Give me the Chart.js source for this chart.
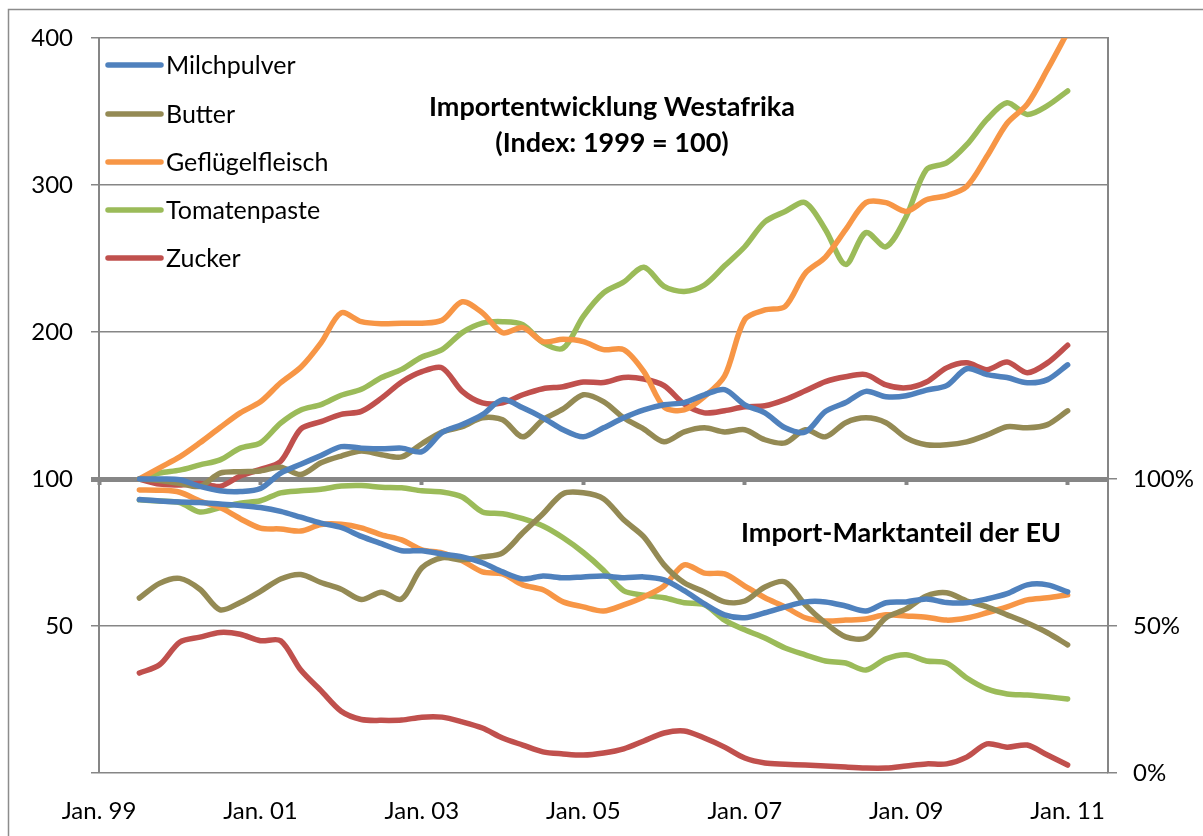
<!DOCTYPE html>
<html>
<head>
<meta charset="utf-8">
<script src="https://cdn.jsdelivr.net/npm/chart.js@4.4.1/dist/chart.umd.min.js"></script>
<style>
  html, body { margin: 0; padding: 0; background: #fff; }
  #chart { display: block; }
</style>
</head>
<body>
<canvas id="chart" width="1203" height="836"></canvas>
<script>
// months counted from Jan. 1999
const months = [6, 9, 12, 15, 18, 21, 24, 27, 30, 33, 36, 39, 42, 45, 48, 51, 54, 57, 60, 63, 66, 69, 72, 75,
  78, 81, 84, 87, 90, 93, 96, 99, 102, 105, 108, 111, 114, 117, 120, 123, 126, 129, 132, 135, 138, 141, 144];

// import index, 1999 = 100
const milchIdx = [100, 100, 99.5, 95, 92, 91.5, 93.5, 104, 110, 116, 122, 121, 120.5, 121, 118.6, 131.6, 137, 143.8,
  154, 148.4, 141.6, 133.5, 128.7, 134.8, 141.6, 147, 150.5, 152, 157.3, 160.8, 150.5, 145, 134.8, 132, 146, 152,
  159.6, 156, 156.6, 160.5, 163.5, 175, 171, 169, 165.5, 167.6, 177.7];
const butterIdx = [100, 99, 97, 95, 104, 105, 105.5, 108, 103, 111, 115.6, 119, 116.5, 115, 124, 132, 135.6, 141.6,
  140.3, 128.7, 140.3, 147.7, 157.3, 152.6, 141.6, 134, 125.3, 132, 134.8, 132, 133.5, 126.7, 124.6, 133.5, 128.7,
  138.3, 141.6, 138.3, 128, 123.3, 123.3, 125.3, 130, 135.6, 134.8, 137, 146.4];
const gefluegelIdx = [100, 107.6, 115, 124.6, 135, 145, 152.5, 165.5, 176, 192.6, 213, 207, 205.6, 206, 206, 208,
  220.6, 213, 199.5, 203, 193.5, 195, 193.5, 188, 188, 173, 149, 147, 156, 170, 208.5, 215, 217.4, 240, 251, 269.6,
  288, 288, 282, 290, 292.8, 299, 319.5, 342, 355, 378.6, 404];
const tomatenIdx = [100, 104, 106, 109.6, 113, 121, 124.6, 138, 147, 150.6, 157, 161, 169, 174.6, 183, 188, 199.6,
  206, 207, 205, 192.8, 189, 210.7, 226.6, 234, 244, 231, 227.6, 232, 245, 258, 275, 282, 288, 269.6, 246, 267.6,
  258, 278.6, 310.5, 315, 327.4, 344.6, 356, 348, 354, 364];
const zuckerIdx = [100, 96.5, 96, 97, 95, 102, 106.5, 112, 134, 139, 144, 146, 155, 166, 173, 175.6, 159.6, 151.8,
  151.8, 157.3, 161.4, 162.8, 166, 165.6, 169, 168, 163.5, 151, 145, 146.4, 149.1, 149.8, 154, 160, 166.3, 169.6,
  171, 164, 162, 166, 175.6, 179, 174.4, 179.6, 172.3, 179, 191];

// EU import market share, %
const milchShare = [93, 92.5, 92.2, 92, 91.5, 91, 90.3, 89, 87, 85, 83.5, 80.5, 78, 75.6, 75.6, 74.5, 73.5, 71.5,
  68.4, 66, 67, 66.4, 66.7, 67, 66.4, 66.7, 65.7, 62, 57.5, 53.8, 52.8, 54.5, 56.5, 58.2, 58.2, 56.8, 55.1, 57.9,
  58.2, 59.2, 58, 57.9, 59.2, 61, 64, 64, 61.6];
const butterShare = [59.5, 64.5, 66.2, 62.5, 55.5, 58, 61.8, 66, 67.5, 64.8, 62.5, 59, 61.5, 59.2, 69.8, 73.2, 72.5,
  73.5, 74.9, 81.7, 88.2, 95, 95.3, 93.3, 86.1, 80.3, 70.8, 64.7, 61.6, 58.2, 58.5, 63.3, 65, 57.2, 51, 46.3, 45.9,
  52.8, 55.8, 60.2, 61.3, 58.5, 56.5, 53.8, 51, 47.7, 43.6];
const gefluegelShare = [96.3, 96.2, 95.5, 92.5, 90.3, 86.5, 83.3, 83, 82.3, 84.5, 84.6, 83.4, 81, 79.3, 75.9, 74.9,
  72.2, 68.4, 67.7, 64, 62.3, 58.2, 56.5, 55.1, 57.2, 59.9, 63.6, 70.8, 68, 67.7, 63.6, 59.6, 56.5, 52.8, 51.7, 52,
  52.4, 53.8, 53.4, 53, 52, 52.7, 54.5, 56.5, 58.9, 59.6, 60.6];
const tomatenShare = [92.9, 92.5, 92, 88.8, 90.3, 91.8, 92.6, 95.3, 96, 96.5, 97.6, 97.8, 97.2, 97, 96, 95.6, 93.9,
  88.8, 88.2, 86.5, 84, 80, 75, 69, 62, 60.5, 59.6, 57.9, 57.2, 52, 48.7, 45.9, 42.5, 40.2, 38.1, 37.4, 35, 38.8,
  40.2, 38.1, 37.4, 32.3, 28.6, 26.9, 26.5, 25.9, 25.2];
const zuckerShare = [34, 36.8, 44.5, 46.2, 47.8, 47.2, 45, 45, 35, 28, 21, 18.2, 17.9, 18, 19, 19, 17.4, 15.3, 11.9,
  9.5, 7.2, 6.5, 6.1, 6.8, 8.2, 10.9, 13.6, 14.3, 11.9, 8.8, 5.1, 3.4, 3, 2.7, 2.4, 2, 1.7, 1.7, 2.4, 3.1, 3.1, 5.4,
  9.9, 8.8, 9.5, 6.1, 2.7];

const names = ['Milchpulver', 'Butter', 'Geflügelfleisch', 'Tomatenpaste', 'Zucker'];
const colors = ['#4F81BD', '#948A54', '#F79646', '#9BBB59', '#C0504D'];

const xTicks = [0, 24, 48, 72, 96, 120, 144];
const xLabels = ['Jan. 99', 'Jan. 01', 'Jan. 03', 'Jan. 05', 'Jan. 07', 'Jan. 09', 'Jan. 11'];
const leftTicks = [-100, 0, 100, 200, 300, 400];
const leftLabels = ['', '50', '100', '200', '300', '400'];
const rightTicks = [0, 50, 100];
const rightLabels = ['0%', '50%', '100%'];

const GRID = '#868686';
Chart.defaults.font.family = 'Lato, "Open Sans", sans-serif';
Chart.defaults.color = '#000';

function pts(arr) {
  return months.map((m, i) => ({ x: m, y: arr[i] }));
}

const idxSeries = [milchIdx, butterIdx, gefluegelIdx, tomatenIdx, zuckerIdx];
const shareSeries = [milchShare, butterShare, gefluegelShare, tomatenShare, zuckerShare];

const datasets = [];
idxSeries.forEach((s, i) => datasets.push({
  label: names[i], data: pts(s), yAxisID: 'y', borderColor: colors[i], clip: 0
}));
shareSeries.forEach((s, i) => datasets.push({
  label: names[i] + ' (EU-Anteil)', data: pts(s), yAxisID: 'y1', borderColor: colors[i]
}));

const decor = {
  id: 'decor',
  beforeDraw(chart) {
    const c = chart.ctx;
    c.save();
    c.fillStyle = '#fff';
    c.fillRect(0, 0, chart.width, chart.height);
    c.restore();
  },
  afterDraw(chart) {
    const c = chart.ctx;
    c.save();
    // outer frame
    c.strokeStyle = '#8c8c8c';
    c.lineWidth = 1.5;
    c.strokeRect(8.5, 9.5, 1400, 1000);

    // legend
    const legY = [65, 114, 162, 210, 258];
    c.lineCap = 'round';
    c.font = '25px Lato, sans-serif';
    c.textBaseline = 'middle';
    c.textAlign = 'left';
    names.forEach((n, i) => {
      c.strokeStyle = colors[i];
      c.lineWidth = 5.5;
      c.beginPath();
      c.moveTo(108, legY[i]);
      c.lineTo(161, legY[i]);
      c.stroke();
      c.fillStyle = '#000';
      c.fillText(n, 166, legY[i] + 1);
    });

    // inner titles
    c.font = 'bold 27px Lato, sans-serif';
    c.textAlign = 'center';
    c.fillText('Importentwicklung Westafrika', 612, 107);
    c.fillText('(Index: 1999 = 100)', 612, 143);
    c.fillText('Import-Marktanteil der EU', 901, 533);
    c.restore();
  }
};

new Chart(document.getElementById('chart'), {
  type: 'line',
  data: { datasets },
  options: {
    responsive: false,
    animation: false,
    devicePixelRatio: 1,
    layout: { padding: { top: 38, left: 0, right: 0, bottom: 0 } },
    elements: {
      point: { radius: 0 },
      line: { borderWidth: 5.5, tension: 0.3, borderCapStyle: 'round', borderJoinStyle: 'round', fill: false }
    },
    plugins: { legend: { display: false }, tooltip: { enabled: false } },
    scales: {
      x: {
        type: 'linear', min: 0, max: 150, position: 'bottom',
        afterBuildTicks: s => { s.ticks = xTicks.map(v => ({ value: v })); },
        afterFit: s => { s.height = 63; },
        grid: { display: false },
        border: { display: false },
        ticks: {
          padding: 16, maxRotation: 0, autoSkip: false, font: { size: 24 },
          callback: v => xLabels[xTicks.indexOf(v)]
        }
      },
      x2: {
        type: 'linear', min: 0, max: 150, position: { y: 100 },
        afterBuildTicks: s => { s.ticks = xTicks.map(v => ({ value: v })); },
        grid: { drawOnChartArea: false, drawTicks: true, tickLength: 6, tickWidth: 4, tickColor: GRID },
        border: { display: false },
        ticks: { display: false }
      },
      y: {
        type: 'linear', min: -100, max: 400, position: 'left',
        afterBuildTicks: s => { s.ticks = leftTicks.map(v => ({ value: v })); },
        afterFit: s => { s.width = 99; },
        grid: {
          color: GRID,
          lineWidth: c => (c.tick && c.tick.value === 100 ? 5 : 1.5),
          tickLength: 8
        },
        border: { color: GRID, width: 2 },
        ticks: {
          padding: 18, font: { size: 24 },
          callback: v => leftLabels[leftTicks.indexOf(v)]
        }
      },
      y1: {
        type: 'linear', min: 0, max: 250, position: 'right',
        afterBuildTicks: s => { s.ticks = rightTicks.map(v => ({ value: v })); },
        afterFit: s => { s.width = 95; },
        grid: { drawOnChartArea: false, color: GRID, lineWidth: 1.5, tickLength: 9 },
        border: { color: GRID, width: 2 },
        ticks: {
          padding: 16, font: { size: 24 },
          callback: v => rightLabels[rightTicks.indexOf(v)]
        }
      }
    }
  },
  plugins: [decor]
});
</script>
</body>
</html>
